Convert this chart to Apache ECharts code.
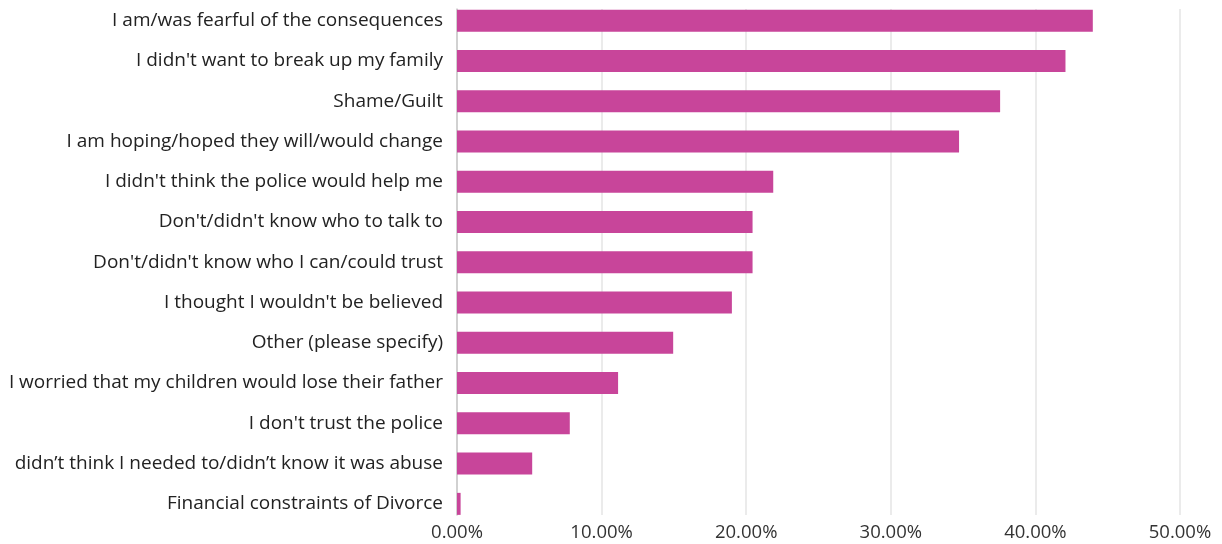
<!DOCTYPE html>
<html>
<head>
<meta charset="utf-8">
<script src="https://cdn.jsdelivr.net/npm/echarts@6/dist/echarts.min.js"></script>
<style>
  html, body { margin: 0; padding: 0; background: #ffffff; }
  #chart { width: 1222px; height: 544px; }
</style>
</head>
<body>
<div id="chart"></div>
<script>
// Reasons given for not reporting / leaving (share of respondents)
const reasons = [
  "I am/was fearful of the consequences",
  "I didn't want to break up my family",
  "Shame/Guilt",
  "I am hoping/hoped they will/would change",
  "I didn't think the police would help me",
  "Don't/didn't know who to talk to",
  "Don't/didn't know who I can/could trust",
  "I thought I wouldn't be believed",
  "Other (please specify)",
  "I worried that my children would lose their father",
  "I don't trust the police",
  "didn\u2019t think I needed to/didn\u2019t know it was abuse",
  "Financial constraints of Divorce"
];
const shares = [43.97, 42.08, 37.56, 34.72, 21.87, 20.44, 20.44, 19.01, 14.95, 11.14, 7.80, 5.20, 0.25];

const xMin = 0, xMax = 50, xStep = 10;
const FONT = "'Open Sans', sans-serif";

const chart = echarts.init(document.getElementById('chart'), null, { renderer: 'canvas' });
chart.setOption({
  animation: false,
  backgroundColor: '#ffffff',
  grid: [
    // bars and category labels
    { left: 457, right: 42, top: 0.5, bottom: 20, containLabel: false },
    // gridlines, baseline and percentage ticks
    { left: 457, right: 42, top: 9, bottom: 29, containLabel: false }
  ],
  xAxis: [
    {
      gridIndex: 0, type: 'value', min: xMin, max: xMax, interval: xStep,
      show: false
    },
    {
      gridIndex: 1, type: 'value', min: xMin, max: xMax, interval: xStep,
      axisLine: { show: false }, axisTick: { show: false },
      splitLine: { show: true, lineStyle: { color: '#e4e4e4', width: 1.5 } },
      axisLabel: {
        margin: 8, color: '#333333', fontSize: 18.5, fontFamily: FONT,
        formatter: v => v.toFixed(2) + '%'
      }
    }
  ],
  yAxis: [
    {
      gridIndex: 0, type: 'category', data: reasons, inverse: true,
      axisLine: { show: false }, axisTick: { show: false },
      axisLabel: { margin: 14, color: '#222222', fontSize: 19, fontFamily: FONT }
    },
    {
      gridIndex: 1, type: 'category', data: reasons, inverse: true,
      axisLine: { show: true, lineStyle: { color: '#c8c8c8', width: 1.5 } },
      axisTick: { show: false }, axisLabel: { show: false }
    }
  ],
  series: [{
    type: 'bar',
    xAxisIndex: 0, yAxisIndex: 0,
    data: shares,
    barWidth: 22,
    itemStyle: { color: '#c8459a' },
    z: 3
  }]
});
</script>
</body>
</html>
